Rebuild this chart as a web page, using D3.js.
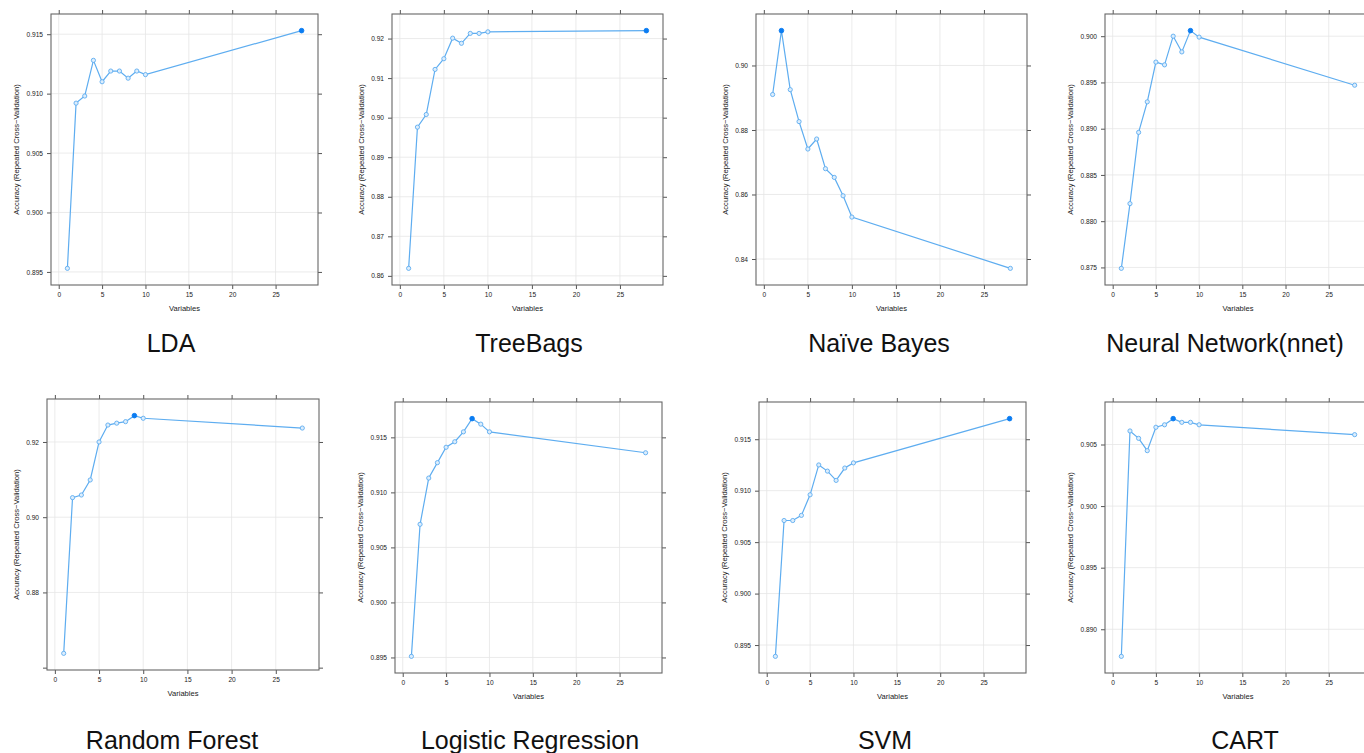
<!DOCTYPE html>
<html>
<head>
<meta charset="utf-8">
<script src="https://cdn.jsdelivr.net/npm/d3@7"></script>
<style>
  body { margin: 0; background: #fff; }
  text { font-family: "Liberation Sans", Arial, Helvetica, sans-serif; }
  .tick text { fill: #1a1a1a; font-size: 6.6px; }
  .tick line { stroke: #555; }
  .caption { fill: #1a1a1a; font-size: 7.6px; }
  .title { fill: #111; font-size: 25px; }
</style>
</head>
<body>
<script>
// number of variables tried by rfe (x values shared by all models)
var variables = [1, 2, 3, 4, 5, 6, 7, 8, 9, 10, 28];
var xTicks = [0, 5, 10, 15, 20, 25];

var models = ["LDA", "TreeBags", "Naïve Bayes", "Neural Network(nnet)",
              "Random Forest", "Logistic Regression", "SVM", "CART"];

// accuracy per model, one value per entry in variables
var ldaAcc = [0.8953, 0.9092, 0.9098, 0.9128, 0.9110, 0.9119, 0.9119, 0.9113, 0.9119, 0.9116, 0.9153];
var treebagAcc = [0.8619, 0.8976, 0.9008, 0.9122, 0.9149, 0.9201, 0.9188, 0.9213, 0.9213, 0.9217, 0.9220];
var nbAcc = [0.8910, 0.9108, 0.8925, 0.8826, 0.8741, 0.8772, 0.8680, 0.8653, 0.8596, 0.8530, 0.8371];
var nnetAcc = [0.8749, 0.8819, 0.8896, 0.8929, 0.8972, 0.8969, 0.9000, 0.8983, 0.9006, 0.8999, 0.8947];
var rfAcc = [0.8638, 0.9052, 0.9059, 0.9099, 0.9200, 0.9245, 0.9250, 0.9254, 0.9270, 0.9263, 0.9237];
var logregAcc = [0.8951, 0.9071, 0.9113, 0.9127, 0.9141, 0.9146, 0.9155, 0.9167, 0.9162, 0.9155, 0.9136];
var svmAcc = [0.8939, 0.9071, 0.9071, 0.9076, 0.9096, 0.9125, 0.9119, 0.9110, 0.9122, 0.9127, 0.9170];
var cartAcc = [0.8878, 0.9061, 0.9055, 0.9045, 0.9064, 0.9066, 0.9071, 0.9068, 0.9068, 0.9066, 0.9058];

var accuracy = [ldaAcc, treebagAcc, nbAcc, nnetAcc, rfAcc, logregAcc, svmAcc, cartAcc];

// y tick values shown on each panel
var ldaTicks = [0.895, 0.900, 0.905, 0.910, 0.915];
var treebagTicks = [0.86, 0.87, 0.88, 0.89, 0.90, 0.91, 0.92];
var nbTicks = [0.84, 0.86, 0.88, 0.90];
var nnetTicks = [0.875, 0.880, 0.885, 0.890, 0.895, 0.900];
var rfTicks = [0.86, 0.88, 0.90, 0.92];
var logregTicks = [0.895, 0.900, 0.905, 0.910, 0.915];
var svmTicks = [0.895, 0.900, 0.905, 0.910, 0.915];
var cartTicks = [0.890, 0.895, 0.900, 0.905];

var yTicks = [ldaTicks, treebagTicks, nbTicks, nnetTicks, rfTicks, logregTicks, svmTicks, cartTicks];
var yDigits = [3, 2, 2, 3, 2, 3, 3, 3];

// panel boxes (layout only)
var boxes = [
  {x: 51,   y: 14,  w: 267, h: 271, tx: 171},
  {x: 392,  y: 14,  w: 271, h: 271, tx: 529},
  {x: 756,  y: 14,  w: 271, h: 271, tx: 879},
  {x: 1105, y: 14,  w: 266, h: 271, tx: 1225},
  {x: 47,   y: 399, w: 272, h: 271, tx: 172},
  {x: 395,  y: 402, w: 267, h: 271, tx: 530},
  {x: 759,  y: 402, w: 267, h: 271, tx: 885},
  {x: 1105, y: 402, w: 266, h: 271, tx: 1245}
];

var lineColor = "#5eadf0",
    bestColor = "#0a7cf2";

var svg = d3.select("body")
            .append("svg")
            .attr("width", 1364)
            .attr("height", 753);

models.forEach(function(name, i) {
    var b = boxes[i];
    var vals = accuracy[i];
    var pad = 0.07;

    var xr = d3.extent(variables), xp = (xr[1] - xr[0]) * pad;
    var x = d3.scaleLinear()
              .domain([xr[0] - xp, xr[1] + xp])
              .range([0, b.w]);

    var yr = d3.extent(vals), yp = (yr[1] - yr[0]) * pad;
    var y = d3.scaleLinear()
              .domain([yr[0] - yp, yr[1] + yp])
              .range([b.h, 0]);

    var fmt = d3.format("." + yDigits[i] + "f");
    // rf panel: lowest tick sits too close to the edge to get a label
    var labelFmt = function(d) {
        return (y(d) > b.h - 6) ? "" : fmt(d);
    };

    var g = svg.append("g")
               .attr("transform", "translate(" + b.x + "," + b.y + ")");

    // grid
    g.append("g")
     .selectAll("line")
     .data(xTicks)
     .enter().append("line")
       .attr("x1", function(d) { return x(d); })
       .attr("x2", function(d) { return x(d); })
       .attr("y1", 0)
       .attr("y2", b.h)
       .attr("stroke", "#e6e6e6")
       .attr("stroke-width", 0.8);

    g.append("g")
     .selectAll("line")
     .data(yTicks[i].filter(function(d) { return y(d) < b.h - 6; }))
     .enter().append("line")
       .attr("x1", 0)
       .attr("x2", b.w)
       .attr("y1", function(d) { return y(d); })
       .attr("y2", function(d) { return y(d); })
       .attr("stroke", "#e6e6e6")
       .attr("stroke-width", 0.8);

    // axes on all four sides, labels only bottom / left
    g.append("g")
     .attr("transform", "translate(0," + b.h + ")")
     .call(d3.axisBottom(x).tickValues(xTicks).tickSize(4).tickPadding(3))
     .call(function(s) { s.select(".domain").remove(); });

    g.append("g")
     .call(d3.axisTop(x).tickValues(xTicks).tickSize(4).tickFormat(""))
     .call(function(s) { s.select(".domain").remove(); });

    g.append("g")
     .call(d3.axisLeft(y).tickValues(yTicks[i]).tickSize(4).tickPadding(4).tickFormat(labelFmt))
     .call(function(s) { s.select(".domain").remove(); });

    g.append("g")
     .attr("transform", "translate(" + b.w + ",0)")
     .call(d3.axisRight(y).tickValues(yTicks[i]).tickSize(4).tickFormat(""))
     .call(function(s) { s.select(".domain").remove(); });

    g.selectAll(".tick text").attr("font-family", null);

    // box
    g.append("rect")
     .attr("width", b.w)
     .attr("height", b.h)
     .attr("fill", "none")
     .attr("stroke", "#666")
     .attr("stroke-width", 1.1);

    // line + points
    var pts = variables.map(function(v, j) { return [v, vals[j]]; });
    var best = d3.maxIndex(vals);

    g.append("path")
     .datum(pts)
     .attr("fill", "none")
     .attr("stroke", lineColor)
     .attr("stroke-width", 1.2)
     .attr("d", d3.line()
                  .x(function(d) { return x(d[0]); })
                  .y(function(d) { return y(d[1]); }));

    g.selectAll(".pt")
     .data(pts)
     .enter().append("circle")
       .attr("class", "pt")
       .attr("cx", function(d) { return x(d[0]); })
       .attr("cy", function(d) { return y(d[1]); })
       .attr("r", function(d, j) { return j == best ? 2.3 : 2.1; })
       .attr("fill", function(d, j) { return j == best ? bestColor : "#dcedfc"; })
       .attr("stroke", function(d, j) { return j == best ? bestColor : lineColor; })
       .attr("stroke-width", 0.9);

    // axis captions
    g.append("text")
     .attr("class", "caption")
     .attr("x", b.w / 2)
     .attr("y", b.h + 26)
     .attr("text-anchor", "middle")
     .text("Variables");

    var yOff = yDigits[i] == 3 ? 32 : 28;
    g.append("text")
     .attr("class", "caption")
     .attr("transform", "translate(" + (-yOff) + "," + (b.h / 2) + ") rotate(-90)")
     .attr("text-anchor", "middle")
     .text("Accuracy (Repeated Cross\u2212Validation)");

    // big model title under panel
    svg.append("text")
       .attr("class", "title")
       .attr("x", b.tx)
       .attr("y", i < 4 ? 352 : 749)
       .attr("text-anchor", "middle")
       .text(name);
});
</script>
</body>
</html>
